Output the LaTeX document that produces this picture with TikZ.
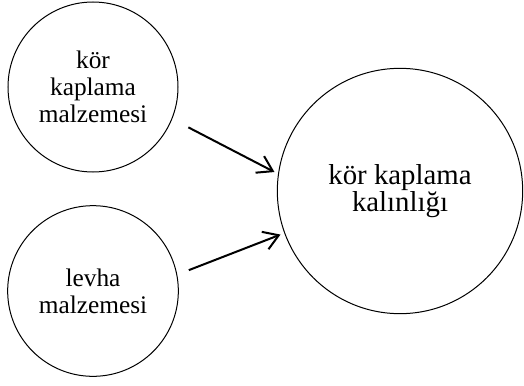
\documentclass[tikz,border=0pt]{standalone}
\usepackage{fontspec}
\setmainfont{Liberation Serif}
\usepackage{tikz}
\usetikzlibrary{arrows.meta}

\tikzset{
  circnode/.style={draw, circle, line width=0.75pt, align=center, inner sep=0pt,
    font=\fontsize{19}{20.25}\selectfont},
  bigfont/.style={font=\fontsize{21.6}{20.5}\selectfont},
  arr/.style={line width=1.5pt, -{Straight Barb[length=11pt,width=14pt,line width=1.5pt]}}
}

\begin{document}
\begin{tikzpicture}[x=0.75pt,y=0.75pt,yscale=-1,xscale=1]
\useasboundingbox (0,0) rectangle (524,385);

% Circle Node
\node (korMalz) [circnode, minimum size=127.5pt] at (93,87) {kör\\kaplama\\malzemesi};
% Circle Node
\node (levhaMalz) [circnode, minimum size=128pt] at (93,291) {levha\\malzemesi};
% Circle Node
\node (kalinlik) [circnode, bigfont, minimum size=184pt] at (400,191) {kör kaplama\\kalınlığı};

%Straight Lines
\draw [arr, shorten <=13.6pt, shorten >=3pt] (korMalz.-22) -- (kalinlik.172) ;
%Straight Lines
\draw [arr, shorten <=9.3pt, shorten >=3pt] (levhaMalz.11) -- (kalinlik.200) ;

\end{tikzpicture}
\end{document}
